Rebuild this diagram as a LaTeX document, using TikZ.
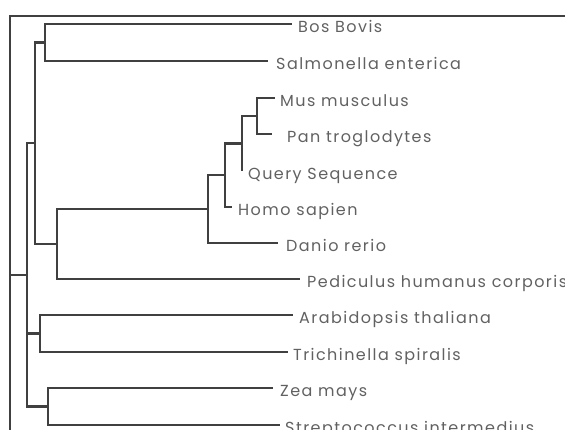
\documentclass[tikz,border=0pt]{standalone}
\usepackage{fontspec}
\newfontfamily\lblfont[LetterSpace=9]{Poppins}
\begin{document}
\begin{tikzpicture}[x=1pt,y=-1pt,
  edge/.style={draw=black!75, line width=2.2pt},
  frame/.style={draw=black!75, line width=2pt},
  leaf/.style={anchor=base west, inner sep=0pt, font=\lblfont\fontsize{16}{16}\selectfont, text=black!62}]
\useasboundingbox (0,0) rectangle (565,430);
\draw[frame] (10,440) -- (10,16) -- (570,16);
% internal nodes
\coordinate (root) at (10,275);
\coordinate (A) at (27,275);
\coordinate (B) at (35,143);
\coordinate (G) at (45,42.5);
\coordinate (E) at (57,244);
\coordinate (F) at (208,209);
\coordinate (H) at (225,175);
\coordinate (I) at (242,143.5);
\coordinate (J) at (257,116);
\coordinate (C) at (40,333.5);
\coordinate (D) at (48,406.5);
% leaf ends
\coordinate (eBos) at (292,24);
\coordinate (eSal) at (268,61);
\coordinate (eMus) at (275,98);
\coordinate (ePan) at (272,134);
\coordinate (eQue) at (242,171);
\coordinate (eHom) at (232,207);
\coordinate (eDan) at (278,243);
\coordinate (ePed) at (300,279);
\coordinate (eAra) at (293,315);
\coordinate (eTri) at (288,352);
\coordinate (eZea) at (273,388);
\coordinate (eStr) at (280,425);
% labels
\node[leaf] (tBos) at (298,32.5) {Bos Bovis};
\node[leaf] (tSal) at (276,69.5) {Salmonella enterica};
\node[leaf] (tMus) at (280,106.5) {Mus musculus};
\node[leaf] (tPan) at (287,142.5) {Pan troglodytes};
\node[leaf] (tQue) at (248,179.5) {Query Sequence};
\node[leaf] (tHom) at (238,215.5) {Homo sapien};
\node[leaf] (tDan) at (286,251.5) {Danio rerio};
\node[leaf] (tPed) at (307,287.5) {Pediculus humanus corporis};
\node[leaf] (tAra) at (299,323.5) {Arabidopsis thaliana};
\node[leaf] (tTri) at (293,360.5) {Trichinella spiralis};
\node[leaf] (tZea) at (280,396.5) {Zea mays};
\node[leaf] (tStr) at (285,433.5) {Streptococcus intermedius};
% edges
\draw[edge] (root) -- (A);
\draw[edge] (A) |- (B);
\draw[edge] (A) |- (C);
\draw[edge] (A) |- (D);
\draw[edge] (B) |- (G);
\draw[edge] (B) |- (E);
\draw[edge] (G) |- (eBos);
\draw[edge] (G) |- (eSal);
\draw[edge] (E) |- (F);
\draw[edge] (E) |- (ePed);
\draw[edge] (F) |- (H);
\draw[edge] (F) |- (eDan);
\draw[edge] (H) |- (I);
\draw[edge] (H) |- (eHom);
\draw[edge] (I) |- (J);
\draw[edge] (I) |- (eQue);
\draw[edge] (J) |- (eMus);
\draw[edge] (J) |- (ePan);
\draw[edge] (C) |- (eAra);
\draw[edge] (C) |- (eTri);
\draw[edge] (D) |- (eZea);
\draw[edge] (D) |- (eStr);
\end{tikzpicture}
\end{document}
